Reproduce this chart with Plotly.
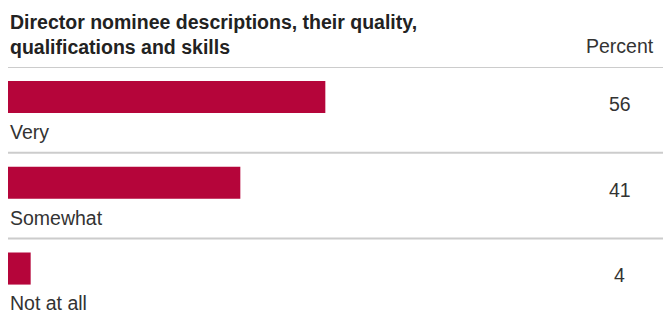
import plotly.graph_objects as go

categories = ["Very", "Somewhat", "Not at all"]
values = [56, 41, 4]
title_text = "Director nominee descriptions, their quality,<br>qualifications and skills"
unit_label = "Percent"

FONT = "Liberation Sans, Arial, sans-serif"
BAR_COLOR = "#b5053a"

fig = go.Figure()
fig.add_trace(go.Bar(
    x=values, y=categories, orientation="h",
    marker=dict(color=BAR_COLOR, line=dict(width=0)),
    width=0.374, offset=-0.337,
    hoverinfo="skip",
))

# category labels under each bar, values on the right
for cat, val in zip(categories, values):
    fig.add_annotation(x=0, xref="paper", y=cat, yref="y", yshift=-22,
                       text=cat, showarrow=False, xanchor="left", yanchor="middle",
                       font=dict(family=FONT, size=19.5, color="#333"))
    fig.add_annotation(x=0.923, xref="paper", y=cat, yref="y", yshift=6,
                       text=str(val), showarrow=False, xanchor="center", yanchor="middle",
                       font=dict(family=FONT, size=19.5, color="#333"))

# separator lines between rows
for i in range(len(categories)):
    fig.add_shape(type="line", xref="paper", x0=0, x1=1, yref="y",
                  y0=i - 0.5, y1=i - 0.5, line=dict(color="#cccccc", width=2))

fig.add_annotation(x=0, xref="paper", y=1.127, yref="paper",
                   text="<b>" + title_text.replace("<br>", "</b><br><b>") + "</b>",
                   showarrow=False, xanchor="left", yanchor="middle", align="left",
                   font=dict(family=FONT, size=19.5, color="#222"))
fig.add_annotation(x=0.923, xref="paper", y=1.03, yref="paper", text=unit_label,
                   showarrow=False, xanchor="center", yanchor="bottom",
                   font=dict(family=FONT, size=19.5, color="#333"))

fig.update_layout(
    width=663, height=312,
    margin=dict(l=0, r=0, t=59, b=0),
    paper_bgcolor="white", plot_bgcolor="white",
    showlegend=False,
    xaxis=dict(range=[0, 117], visible=False, fixedrange=True),
    yaxis=dict(categoryorder="array", categoryarray=categories, range=[2.45, -0.5],
               visible=False, fixedrange=True),
)

fig.write_html("out.html")
